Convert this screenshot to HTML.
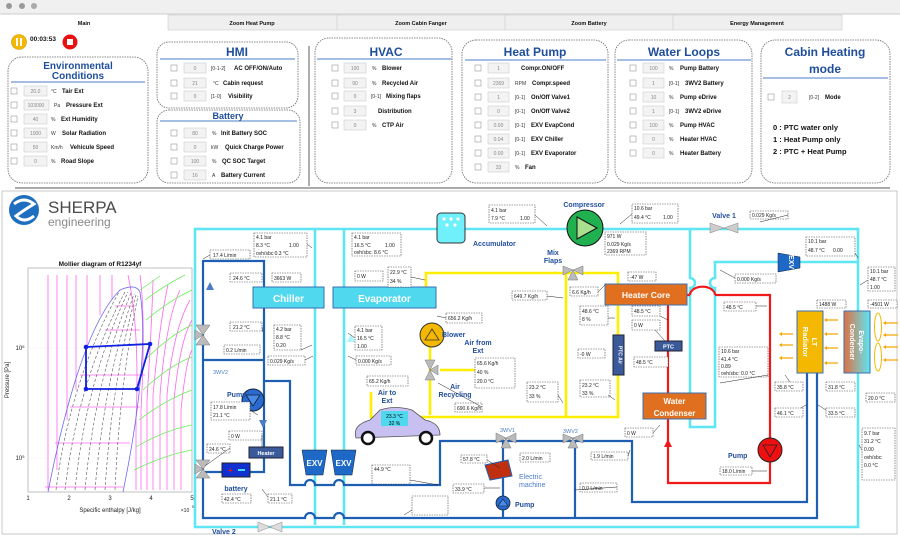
<!DOCTYPE html>
<html><head><meta charset="utf-8"><style>
html,body{margin:0;padding:0;background:#fff;}
svg{display:block;font-family:"Liberation Sans",sans-serif;}
.t{font-size:5px;fill:#222}
.v{font-size:5px;fill:#888;text-anchor:middle}
.u{font-size:5px;fill:#333}
.l{font-size:6px;font-weight:bold;fill:#111}
.h{font-weight:bold;fill:#1f4e9c;text-anchor:middle}
.pn{fill:none;stroke:#666;stroke-width:0.8;stroke-dasharray:1.5 1}
.ib{fill:#fff;stroke:#444;stroke-width:0.6;stroke-dasharray:1.5 1}
.cb{fill:#fff;stroke:#999;stroke-width:0.6}
.vb{fill:#f3f3f3;stroke:#ccc;stroke-width:0.6}
.cy{fill:none;stroke:#5ee6f5;stroke-width:2.6}
.bl{fill:none;stroke:#1e5fb4;stroke-width:2.2}
.rd{fill:none;stroke:#f01818;stroke-width:2.2}
.ye{fill:none;stroke:#ffee00;stroke-width:2.6}
.bt{font-size:7px;font-weight:bold;fill:#1f4e9c}
.ar{stroke:#222;stroke-width:0.5;fill:none}
</style></head><body>
<svg width="900" height="536" viewBox="0 0 900 536">
<!-- toolbar -->
<rect x="0" y="0" width="900" height="14" fill="#f0f0f0"/>
<circle cx="9" cy="6" r="3" fill="#999"/><circle cx="22" cy="6" r="3" fill="#999"/><circle cx="34" cy="6" r="3" fill="#aaa"/>
<line x1="0" y1="14" x2="900" y2="14" stroke="#ccc"/>
<!-- tabs -->
<rect x="168" y="15" width="674" height="15" fill="#efefef" stroke="#ccc" stroke-width="0.6"/>
<line x1="337" y1="15" x2="337" y2="30" stroke="#ccc" stroke-width="0.6"/><line x1="505" y1="15" x2="505" y2="30" stroke="#ccc" stroke-width="0.6"/><line x1="673" y1="15" x2="673" y2="30" stroke="#ccc" stroke-width="0.6"/>
<g font-size="5.5" font-weight="bold" text-anchor="middle" fill="#111">
<text x="84" y="25">Main</text><text x="252" y="25">Zoom Heat Pump</text><text x="421" y="25">Zoom Cabin Fanger</text><text x="589" y="25">Zoom Battery</text><text x="757" y="25">Energy Management</text></g>
<!-- timer -->
<circle cx="19" cy="42" r="7.5" fill="#f5b800" stroke="#c90" stroke-width="0.6"/><rect x="16" y="38" width="2" height="8" fill="#fff"/><rect x="20" y="38" width="2" height="8" fill="#fff"/>
<text x="30" y="41" font-size="6.5" font-weight="bold" fill="#111">00:03:53</text>
<circle cx="70" cy="42" r="7.5" fill="#e81010"/><rect x="67" y="39" width="6" height="6" fill="#fff"/>

<!-- Env panel -->
<rect class="pn" x="8" y="57" width="140" height="126" rx="14"/>
<text class="h" x="78" y="69" font-size="10">Environmental</text><text class="h" x="78" y="79" font-size="10">Conditions</text>
<line x1="11" y1="82" x2="145" y2="82" stroke="#4a7cc8" stroke-width="1"/>
<g>
<rect class="cb" x="11" y="88" width="6" height="6"/><rect class="vb" x="24" y="86" width="23" height="10"/><text class="v" x="35.5" y="93">20.0</text><text class="u" x="51" y="93">°C</text><text class="l" x="62" y="93">Tair Ext</text>
<rect class="cb" x="11" y="102" width="6" height="6"/><rect class="vb" x="24" y="100" width="25" height="10"/><text class="v" x="36" y="107">103000</text><text class="u" x="54" y="107">Pa</text><text class="l" x="66" y="107">Pressure Ext</text>
<rect class="cb" x="11" y="116" width="6" height="6"/><rect class="vb" x="24" y="114" width="23" height="10"/><text class="v" x="35.5" y="121">40</text><text class="u" x="51" y="121">%</text><text class="l" x="61" y="121">Ext Humidity</text>
<rect class="cb" x="11" y="130" width="6" height="6"/><rect class="vb" x="24" y="128" width="23" height="10"/><text class="v" x="35.5" y="135">1000</text><text class="u" x="51" y="135">W</text><text class="l" x="62" y="135">Solar Radiation</text>
<rect class="cb" x="11" y="144" width="6" height="6"/><rect class="vb" x="24" y="142" width="23" height="10"/><text class="v" x="35.5" y="149">50</text><text class="u" x="51" y="149">Km/h</text><text class="l" x="70" y="149">Vehicule Speed</text>
<rect class="cb" x="11" y="158" width="6" height="6"/><rect class="vb" x="24" y="156" width="23" height="10"/><text class="v" x="35.5" y="163">0</text><text class="u" x="51" y="163">%</text><text class="l" x="61" y="163">Road Slope</text>
</g>
<!-- HMI -->
<rect class="pn" x="157" y="42" width="141" height="66" rx="12"/>
<text class="h" x="237" y="56" font-size="12">HMI</text>
<line x1="160" y1="59" x2="295" y2="59" stroke="#4a7cc8" stroke-width="1"/>
<rect class="cb" x="171" y="65" width="6" height="6"/><rect class="vb" x="184" y="63" width="22" height="10"/><text class="v" x="195" y="70">0</text><text class="u" x="211" y="70">[0-1-2]</text><text class="l" x="234" y="70">AC OFF/ON/Auto</text>
<rect class="cb" x="171" y="80" width="6" height="6"/><rect class="vb" x="184" y="78" width="22" height="10"/><text class="v" x="195" y="85">21</text><text class="u" x="213" y="85">°C</text><text class="l" x="223" y="85">Cabin request</text>
<rect class="cb" x="171" y="93" width="6" height="6"/><rect class="vb" x="184" y="91" width="22" height="10"/><text class="v" x="195" y="98">0</text><text class="u" x="211" y="98">[1-0]</text><text class="l" x="228" y="98">Visibility</text>
<!-- Battery -->
<rect class="pn" x="157" y="110" width="143" height="73" rx="12"/>
<text class="h" x="228" y="119" font-size="9">Battery</text>
<line x1="160" y1="121" x2="297" y2="121" stroke="#4a7cc8" stroke-width="1"/>
<rect class="cb" x="171" y="130" width="6" height="6"/><rect class="vb" x="184" y="128" width="22" height="10"/><text class="v" x="195" y="135">80</text><text class="u" x="212" y="135">%</text><text class="l" x="221" y="135">Init Battery SOC</text>
<rect class="cb" x="171" y="144" width="6" height="6"/><rect class="vb" x="184" y="142" width="22" height="10"/><text class="v" x="195" y="149">0</text><text class="u" x="211" y="149">kW</text><text class="l" x="225" y="149">Quick Charge Power</text>
<rect class="cb" x="171" y="158" width="6" height="6"/><rect class="vb" x="184" y="156" width="22" height="10"/><text class="v" x="195" y="163">100</text><text class="u" x="212" y="163">%</text><text class="l" x="222" y="163">QC SOC Target</text>
<rect class="cb" x="171" y="172" width="6" height="6"/><rect class="vb" x="184" y="170" width="22" height="10"/><text class="v" x="195" y="177">16</text><text class="u" x="212" y="177">A</text><text class="l" x="221" y="177">Battery Current</text>
<line x1="309" y1="46" x2="309" y2="186" stroke="#777" stroke-width="1.2"/>
<!-- HVAC -->
<rect class="pn" x="315" y="38" width="137" height="145" rx="14"/>
<text class="h" x="386" y="56" font-size="12">HVAC</text>
<line x1="317" y1="59" x2="452" y2="59" stroke="#4a7cc8" stroke-width="1"/>
<rect class="cb" x="332" y="65" width="6" height="6"/><rect class="vb" x="344" y="63" width="22" height="10"/><text class="v" x="355" y="70">100</text><text class="u" x="372" y="70">%</text><text class="l" x="382" y="70">Blower</text>
<rect class="cb" x="332" y="80" width="6" height="6"/><rect class="vb" x="344" y="78" width="22" height="10"/><text class="v" x="355" y="85">90</text><text class="u" x="372" y="85">%</text><text class="l" x="382" y="85">Recycled Air</text>
<rect class="cb" x="332" y="93" width="6" height="6"/><rect class="vb" x="344" y="91" width="22" height="10"/><text class="v" x="355" y="98">0</text><text class="u" x="371" y="98">[0-1]</text><text class="l" x="386" y="98">Mixing flaps</text>
<rect class="cb" x="332" y="108" width="6" height="6"/><rect class="vb" x="344" y="106" width="22" height="10"/><text class="v" x="355" y="113">3</text><text class="l" x="378" y="113">Distribution</text>
<rect class="cb" x="332" y="122" width="6" height="6"/><rect class="vb" x="344" y="120" width="22" height="10"/><text class="v" x="355" y="127">0</text><text class="u" x="372" y="127">%</text><text class="l" x="382" y="127">CTP Air</text>
<!-- Heat Pump -->
<rect class="pn" x="462" y="40" width="146" height="143" rx="14"/>
<text class="h" x="535" y="56" font-size="12">Heat Pump</text>
<line x1="465" y1="60" x2="606" y2="60" stroke="#4a7cc8" stroke-width="1"/>
<g>
<rect class="cb" x="475" y="65" width="6" height="6"/><rect class="vb" x="488" y="63" width="21" height="10"/><text class="v" x="498.5" y="70">1</text><text class="l" x="521" y="70">Compr.ON/OFF</text>
<rect class="cb" x="475" y="80" width="6" height="6"/><rect class="vb" x="488" y="78" width="21" height="10"/><text class="v" x="498.5" y="85">2369</text><text class="u" x="515" y="85">RPM</text><text class="l" x="532" y="85">Compr.speed</text>
<rect class="cb" x="475" y="94" width="6" height="6"/><rect class="vb" x="488" y="92" width="21" height="10"/><text class="v" x="498.5" y="99">1</text><text class="u" x="515" y="99">[0-1]</text><text class="l" x="531" y="99">On/Off Valve1</text>
<rect class="cb" x="475" y="108" width="6" height="6"/><rect class="vb" x="488" y="106" width="21" height="10"/><text class="v" x="498.5" y="113">0</text><text class="u" x="515" y="113">[0-1]</text><text class="l" x="531" y="113">On/Off Valve2</text>
<rect class="cb" x="475" y="122" width="6" height="6"/><rect class="vb" x="488" y="120" width="21" height="10"/><text class="v" x="498.5" y="127">0.00</text><text class="u" x="515" y="127">[0-1]</text><text class="l" x="531" y="127">EXV EvapCond</text>
<rect class="cb" x="475" y="136" width="6" height="6"/><rect class="vb" x="488" y="134" width="21" height="10"/><text class="v" x="498.5" y="141">0.04</text><text class="u" x="515" y="141">[0-1]</text><text class="l" x="531" y="141">EXV Chiller</text>
<rect class="cb" x="475" y="150" width="6" height="6"/><rect class="vb" x="488" y="148" width="21" height="10"/><text class="v" x="498.5" y="155">0.00</text><text class="u" x="515" y="155">[0-1]</text><text class="l" x="531" y="155">EXV Evaporator</text>
<rect class="cb" x="475" y="164" width="6" height="6"/><rect class="vb" x="488" y="162" width="21" height="10"/><text class="v" x="498.5" y="169">33</text><text class="u" x="515" y="169">%</text><text class="l" x="525" y="169">Fan</text>
</g>
<!-- Water loops -->
<rect class="pn" x="615" y="40" width="137" height="143" rx="14"/>
<text class="h" x="684" y="56" font-size="12">Water Loops</text>
<line x1="617" y1="60" x2="751" y2="60" stroke="#4a7cc8" stroke-width="1"/>
<g>
<rect class="cb" x="630" y="65" width="6" height="6"/><rect class="vb" x="643" y="63" width="21" height="10"/><text class="v" x="653.5" y="70">100</text><text class="u" x="669" y="70">%</text><text class="l" x="680" y="70">Pump Battery</text>
<rect class="cb" x="630" y="80" width="6" height="6"/><rect class="vb" x="643" y="78" width="21" height="10"/><text class="v" x="653.5" y="85">1</text><text class="u" x="669" y="85">[0-1]</text><text class="l" x="685" y="85">3WV2 Battery</text>
<rect class="cb" x="630" y="94" width="6" height="6"/><rect class="vb" x="643" y="92" width="21" height="10"/><text class="v" x="653.5" y="99">10</text><text class="u" x="669" y="99">%</text><text class="l" x="680" y="99">Pump eDrive</text>
<rect class="cb" x="630" y="108" width="6" height="6"/><rect class="vb" x="643" y="106" width="21" height="10"/><text class="v" x="653.5" y="113">1</text><text class="u" x="669" y="113">[0-1]</text><text class="l" x="685" y="113">3WV2 eDrive</text>
<rect class="cb" x="630" y="122" width="6" height="6"/><rect class="vb" x="643" y="120" width="21" height="10"/><text class="v" x="653.5" y="127">100</text><text class="u" x="669" y="127">%</text><text class="l" x="680" y="127">Pump HVAC</text>
<rect class="cb" x="630" y="136" width="6" height="6"/><rect class="vb" x="643" y="134" width="21" height="10"/><text class="v" x="653.5" y="141">0</text><text class="u" x="669" y="141">%</text><text class="l" x="680" y="141">Heater HVAC</text>
<rect class="cb" x="630" y="150" width="6" height="6"/><rect class="vb" x="643" y="148" width="21" height="10"/><text class="v" x="653.5" y="155">0</text><text class="u" x="669" y="155">%</text><text class="l" x="680" y="155">Heater Battery</text>
</g>
<!-- Cabin heating -->
<rect class="pn" x="761" y="40" width="129" height="143" rx="14"/>
<text class="h" x="825" y="56" font-size="12">Cabin Heating</text><text class="h" x="825" y="73" font-size="12">mode</text>
<line x1="763" y1="78" x2="888" y2="78" stroke="#4a7cc8" stroke-width="1"/>
<rect class="cb" x="768" y="94" width="6" height="6"/><rect class="vb" x="782" y="91" width="15" height="12"/><text class="v" x="789.5" y="99">2</text><text class="u" x="809" y="99">[0-2]</text><text class="l" x="825" y="99">Mode</text>
<g font-size="7.5" font-weight="bold" fill="#111"><text x="773" y="130">0 : PTC water only</text><text x="773" y="142">1 : Heat Pump only</text><text x="773" y="154">2 : PTC + Heat Pump</text></g>
<line x1="15" y1="188" x2="890" y2="188" stroke="#777" stroke-width="1.2"/>

<!-- lower frame -->
<rect x="2" y="191" width="895" height="343" fill="none" stroke="#bbb" stroke-width="0.8"/>
<!-- Sherpa logo -->
<circle cx="24" cy="210" r="15" fill="#1f6fc0"/>
<path d="M14 204 Q24 196 34 204 Q24 210 16 216 Q24 224 34 216" fill="none" stroke="#fff" stroke-width="3"/>
<text x="48" y="213" font-size="17" fill="#4a4a4a">SHERPA</text>
<text x="48" y="226" font-size="12" fill="#888">engineering</text>

<!-- Mollier -->
<text x="100" y="266" font-size="6.5" font-weight="bold" text-anchor="middle" fill="#111">Mollier diagram of R1234yf</text>
<rect x="28" y="268" width="164" height="224" fill="#fff" stroke="#999" stroke-width="0.6"/>
<g stroke="#eee" stroke-width="0.4"><line x1="69" y1="268" x2="69" y2="492"/><line x1="110" y1="268" x2="110" y2="492"/><line x1="151" y1="268" x2="151" y2="492"/><line x1="28" y1="348" x2="192" y2="348"/><line x1="28" y1="458" x2="192" y2="458"/></g>
<g stroke="#ff66ee" stroke-width="0.8" fill="none">
<line x1="48" y1="275" x2="48" y2="490"/><line x1="57" y1="275" x2="57" y2="470"/><line x1="67" y1="275" x2="67" y2="420"/><line x1="76" y1="275" x2="76" y2="390"/><line x1="87" y1="275" x2="87" y2="345"/><line x1="100" y1="275" x2="100" y2="315"/><line x1="112" y1="275" x2="112" y2="300"/>
<path d="M136 490 L136 420 Q140 330 128 275"/><path d="M141 490 L141 410 Q146 320 140 275"/><path d="M147 490 L147 400 Q152 320 153 280"/><path d="M153 490 L153 395 Q160 320 168 285"/><path d="M160 490 L160 395 Q166 320 180 290"/><path d="M167 490 L167 395 Q173 330 190 300"/><path d="M174 490 L174 400 Q180 340 192 320"/><path d="M181 490 L181 410 Q186 360 192 350"/>
<line x1="115" y1="306" x2="135" y2="306"/><line x1="105" y1="330" x2="140" y2="330"/><line x1="80" y1="375" x2="145" y2="375"/><line x1="70" y1="407" x2="140" y2="407"/><line x1="55" y1="443" x2="130" y2="443"/><line x1="45" y1="487" x2="123" y2="487"/>
</g>
<g stroke="#66ee55" stroke-width="0.7" fill="none">
<path d="M140 290 L160 276"/><path d="M145 300 Q165 285 185 275"/><path d="M146 320 Q170 300 192 290"/><path d="M145 360 Q170 335 192 325"/><path d="M143 390 Q170 365 192 357"/><path d="M139 420 Q165 400 192 390"/><path d="M136 447 Q165 430 192 425"/><path d="M134 470 Q165 455 192 450"/>
</g>
<g stroke="#555" stroke-width="0.6" stroke-dasharray="3 2" fill="none">
<path d="M56 490 Q70 380 120 290"/><path d="M65 490 Q78 380 125 292"/><path d="M75 490 Q86 380 128 292"/><path d="M85 490 Q95 380 131 293"/><path d="M95 490 Q104 380 134 294"/><path d="M105 490 Q112 380 136 295"/><path d="M115 490 Q120 380 138 296"/>
</g>
<path d="M48 492 Q80 330 120 290 Q136 283 140 292 Q150 360 123 492" fill="none" stroke="#6a6af0" stroke-width="0.8"/>
<path d="M86 347 L150 344 L137 389 L86 389 Z" fill="none" stroke="#1020e0" stroke-width="1.8"/>
<g fill="#1020e0"><circle cx="86" cy="347" r="2.3"/><circle cx="150" cy="344" r="2.3"/><circle cx="137" cy="389" r="2.3"/><circle cx="86" cy="389" r="2.3"/></g>
<g font-size="6" fill="#222" text-anchor="middle"><text x="28" y="500">1</text><text x="69" y="500">2</text><text x="110" y="500">3</text><text x="151" y="500">4</text><text x="192" y="500">5</text>
<text x="110" y="512">Specific enthalpy [J/kg]</text><text x="185" y="512" font-size="5">×10</text><text x="193" y="508" font-size="4">5</text>
<text x="20" y="350">10<tspan font-size="4" dy="-2">6</tspan></text><text x="20" y="460">10<tspan font-size="4" dy="-2">5</tspan></text>
<text transform="translate(9,380) rotate(-90)">Pressure [Pa]</text></g>

<!-- refrigerant cyan loops -->
<path class="cy" d="M195 229 H858 V527 H195 Z"/>
<line class="cy" x1="315" y1="229" x2="315" y2="525"/><line class="cy" x1="344" y1="229" x2="344" y2="525"/>
<path class="cy" d="M690 228 V278 a5 5 0 0 1 0 10 V427 H715 V288 a5 5 0 0 1 0 -10 V262 H857"/>
<!-- yellow air -->
<path class="ye" d="M426 287 V273 H618 V417 H371 V392"/>
<line class="ye" x1="566" y1="273" x2="566" y2="417"/>
<line class="ye" x1="430" y1="330" x2="430" y2="415"/>
<line class="ye" x1="440" y1="370" x2="475" y2="370"/>
<!-- red loop -->
<path class="rd" d="M687 295 H690 M715 295 H770 V483 H668 V305"/>
<path d="M687 295 H686" class="rd"/><path class="rd" d="M688 295 a1 1 0 0 1 0 0"/>
<line class="rd" x1="687" y1="295" x2="689" y2="295"/>
<path d="M690 295 a12 8 0 0 1 25 0" fill="none" stroke="#f01818" stroke-width="2.2"/>
<!-- blue coolant -->
<path class="bl" d="M264 308 V261 H203 V518 H305 a5 5 0 0 1 10 0 H334 a5 5 0 0 1 10 0 H817 V373"/>
<path class="bl" d="M264 308 V472 H203"/>
<path class="bl" d="M203 360 H264"/>
<path class="bl" d="M264 381 H290 V485 H305 a5 5 0 0 1 10 0 H334 a5 5 0 0 1 10 0 H440 V441 H632 V502 H807 V373"/>
<line class="bl" x1="575" y1="441" x2="575" y2="518"/><line class="bl" x1="503" y1="441" x2="503" y2="518"/>
<!-- components -->
<rect x="253" y="287" width="71" height="21" fill="#4fd8ee" stroke="#3a6fb0"/><text x="288.5" y="302" font-size="10" font-weight="bold" fill="#fff" text-anchor="middle">Chiller</text>
<rect x="333" y="287" width="103" height="21" fill="#4fd8ee" stroke="#3a6fb0"/><text x="384.5" y="302" font-size="10" font-weight="bold" fill="#fff" text-anchor="middle">Evaporator</text>
<rect x="437" y="213" width="28" height="30" rx="4" fill="#6ff0fa" stroke="#333" stroke-width="1"/>
<g fill="#fff"><circle cx="444" cy="219" r="1.6"/><circle cx="451" cy="219" r="1.6"/><circle cx="458" cy="219" r="1.6"/><circle cx="447" cy="225" r="1.6"/><circle cx="455" cy="225" r="1.6"/></g>
<text class="bt" x="473" y="246">Accumulator</text>
<circle cx="585" cy="228" r="18" fill="#20b050" stroke="#111" stroke-width="1"/><path d="M577 217 L597 228 L577 239 Z" fill="#a8e090" stroke="#111" stroke-width="1"/>
<text class="bt" x="584" y="207" text-anchor="middle">Compressor</text>
<path d="M710 223 L724 228 L710 233 Z M738 223 L724 228 L738 233 Z" fill="#ccc" stroke="#888" stroke-width="0.5"/>
<text class="bt" x="724" y="218" text-anchor="middle">Valve 1</text>
<path d="M258 522 L270 527 L258 532 Z M282 522 L270 527 L282 532 Z" fill="#ddd" stroke="#888" stroke-width="0.5"/>
<text class="bt" x="212" y="534">Valve 2</text>
<path d="M778 253 L800 257 L800 268 L778 272 Z" fill="#1e68c8" stroke="#123" stroke-width="0.5"/><text x="789" y="262" font-size="7" fill="#fff" font-weight="bold" text-anchor="middle" transform="rotate(90 789 262)">EXV</text>
<path d="M302 450 H327 L323 475 H306 Z" fill="#1e68c8" stroke="#123" stroke-width="0.5"/><text x="314.5" y="466" font-size="8" fill="#fff" font-weight="bold" text-anchor="middle">EXV</text>
<path d="M331 450 H356 L352 475 H335 Z" fill="#1e68c8" stroke="#123" stroke-width="0.5"/><text x="343.5" y="466" font-size="8" fill="#fff" font-weight="bold" text-anchor="middle">EXV</text>
<rect x="605" y="284" width="82" height="21" fill="#e07020" stroke="#3a6fb0"/><text x="646" y="298" font-size="8.5" font-weight="bold" fill="#fff" text-anchor="middle">Heater Core</text>
<rect x="643" y="393" width="63" height="26" fill="#e07020" stroke="#3a6fb0"/><text x="674.5" y="404" font-size="8" font-weight="bold" fill="#fff" text-anchor="middle">Water</text><text x="674.5" y="416" font-size="8" font-weight="bold" fill="#fff" text-anchor="middle">Condenser</text>
<rect x="655" y="341" width="27" height="10" fill="#3a5a9a" stroke="#223"/><text x="668.5" y="348.5" font-size="5.5" fill="#fff" font-weight="bold" text-anchor="middle">PTC</text>
<rect x="613" y="335" width="11" height="40" fill="#3a5a9a" stroke="#223"/><text x="618.5" y="355" font-size="5" fill="#fff" font-weight="bold" text-anchor="middle" transform="rotate(90 618.5 355)">PTC Air</text>
<rect x="249" y="447" width="34" height="11" fill="#3a5a9a" stroke="#223"/><text x="266" y="455" font-size="5.5" fill="#fff" font-weight="bold" text-anchor="middle">Heater</text>
<rect x="797" y="311" width="26" height="62" fill="#f5b800" stroke="#3a6fb0"/><text x="810" y="342" font-size="7.5" fill="#fff" font-weight="bold" text-anchor="middle" transform="rotate(90 810 342)"><tspan x="810" dy="-2">LT</tspan><tspan x="810" dy="9">Radiator</tspan></text>
<defs><linearGradient id="ec" x1="0" x2="1"><stop offset="0" stop-color="#e07040"/><stop offset="1" stop-color="#5ee6f5"/></linearGradient></defs>
<rect x="844" y="311" width="26" height="62" fill="url(#ec)" stroke="#3a6fb0"/><text x="857" y="342" font-size="7" fill="#fff" font-weight="bold" text-anchor="middle" transform="rotate(90 857 342)"><tspan x="857" dy="-2">Evapo-</tspan><tspan x="857" dy="9">Condenser</tspan></text>
<ellipse cx="878" cy="327" rx="3.5" ry="14" fill="none" stroke="#f5b800" stroke-width="1"/><ellipse cx="878" cy="357" rx="3.5" ry="14" fill="none" stroke="#f5b800" stroke-width="1"/>
<g stroke="#f5a800" stroke-width="1.2" fill="#f5a800">
<path d="M781 334 H793 M781 345 H793 M781 358 H793 M826 320 H838 M826 334 H838 M826 348 H838 M826 363 H838 M885 323 H898 M885 335 H898 M885 347 H898 M885 360 H898"/></g>
<g fill="#f5a800"><path d="M779 334 l3 -2 v4z M779 345 l3 -2 v4z M779 358 l3 -2 v4z M824 320 l3 -2 v4z M824 334 l3 -2 v4z M824 348 l3 -2 v4z M824 363 l3 -2 v4z M883 323 l3 -2 v4z M883 335 l3 -2 v4z M883 347 l3 -2 v4z M883 360 l3 -2 v4z"/></g>
<!-- pumps -->
<circle cx="253" cy="400" r="11" fill="#2a6ad0" stroke="#123" stroke-width="1"/><path d="M246 395 L260 395 L253 406 Z" fill="#4a8ae8" stroke="#123" stroke-width="0.8"/>
<text class="bt" x="227" y="397">Pump</text>
<path d="M259 420 L267 420 L263 428 Z" fill="#4a7cc8"/>
<circle cx="770" cy="450" r="12" fill="#ee1010" stroke="#222" stroke-width="1"/><path d="M763 445 L777 445 L770 457 Z" fill="none" stroke="#222" stroke-width="0.8"/>
<text class="bt" x="728" y="458">Pump</text>
<path d="M664 447 L668 439 L672 447 Z" fill="#f01818"/>
<circle cx="503" cy="503" r="7" fill="#2a6ad0" stroke="#123" stroke-width="0.8"/><path d="M498 506 L508 506 L503 499 Z" fill="#4a8ae8" stroke="#123" stroke-width="0.6"/>
<text class="bt" x="515" y="507">Pump</text>
<circle cx="432" cy="335" r="12" fill="#f5b800" stroke="#333" stroke-width="1"/><path d="M425 340 L439 340 L432 329 Z" fill="none" stroke="#333" stroke-width="0.8"/>
<text class="bt" x="442" y="337">Blower</text>
<text class="bt" x="478" y="345" text-anchor="middle">Air from</text><text class="bt" x="478" y="353" text-anchor="middle">Ext</text>
<text class="bt" x="455" y="389" text-anchor="middle">Air</text><text class="bt" x="455" y="397" text-anchor="middle">Recycling</text>
<text class="bt" x="387" y="395" text-anchor="middle">Air to</text><text class="bt" x="387" y="403" text-anchor="middle">Ext</text>
<text class="bt" x="553" y="255" text-anchor="middle">Mix</text><text class="bt" x="553" y="263" text-anchor="middle">Flaps</text>
<text x="519" y="479" font-size="7" fill="#4a7cc8">Electric</text><text x="519" y="487" font-size="7" fill="#4a7cc8">machine</text>
<path d="M485 465 L508 460 L512 476 L490 480 Z" fill="#c03010" stroke="#1e5fb4" stroke-width="1"/>
<text x="213" y="374" font-size="5.5" fill="#4a7cc8">3WV2</text><text x="500" y="432" font-size="5.5" fill="#4a7cc8">3WV1</text><text x="563" y="433" font-size="5.5" fill="#4a7cc8">3WV2</text>
<!-- 3 way valves -->
<g fill="#bbb" stroke="#777" stroke-width="0.5">
<path d="M196 345 L203 335 L210 345 Z M196 325 L203 335 L210 325 Z M203 335 L195 330 L195 340 Z"/>
<path d="M196 478 L203 469 L210 478 Z M196 460 L203 469 L210 460 Z M203 469 L195 464 L195 474 Z"/>
<path d="M496 433 L506 438 L496 443 Z M516 433 L506 438 L516 443 Z M501 448 L506 438 L511 448 Z"/>
<path d="M563 434 L573 438 L563 443 Z M583 434 L573 438 L583 443 Z M568 448 L573 438 L578 448 Z"/>
<path d="M563 266 L573 270 L563 275 Z M583 266 L573 270 L583 275 Z M568 280 L573 270 L578 280 Z"/>
<path d="M425 360 L430 370 L435 360 Z M425 380 L430 370 L435 380 Z M430 370 L438 365 L438 375 Z"/>
</g>
<!-- car -->
<path d="M356 438 Q352 425 370 420 L380 410 Q395 405 412 410 L425 420 Q440 423 440 435 Z" fill="#c8c0f0" stroke="#555" stroke-width="0.8"/>
<rect x="381" y="411" width="27" height="15" fill="#4fd8ee"/><text x="394.5" y="418" font-size="5" text-anchor="middle">23.3 °C</text><text x="394.5" y="425" font-size="5" text-anchor="middle">32 %</text>
<circle cx="368" cy="438" r="6" fill="#fff" stroke="#111" stroke-width="2.5"/><circle cx="426" cy="438" r="6" fill="#fff" stroke="#111" stroke-width="2.5"/>
<!-- battery -->
<rect x="222" y="463" width="28" height="14" fill="#1030d0" stroke="#222"/><text x="228" y="473" font-size="8" fill="#f01818" font-weight="bold">+</text><rect x="238" y="469" width="7" height="2" fill="#4fd8ee"/>
<text class="bt" x="236" y="491" text-anchor="middle">battery</text>
<path d="M206 290 L210 282 L214 290 Z" fill="#4a7cc8"/>
<path d="M347 342 L351 334 L355 342 Z" fill="#aaf6fb"/>
<!-- info boxes -->
<g class="t">
<rect class="ib" x="489" y="205" width="46" height="18"/><text x="491" y="212">4.1 bar</text><text x="491" y="220">7.9 °C</text><text x="520" y="220">1.00</text>
<rect class="ib" x="254" y="233" width="53" height="24"/><text x="256" y="239">4.1 bar</text><text x="256" y="247">8.3 °C</text><text x="289" y="247">1.00</text><text x="256" y="255">ovh/sbc:0.3 °C</text>
<rect class="ib" x="210" y="250" width="40" height="9"/><text x="213" y="257">17.4 L/min</text>
<rect class="ib" x="230" y="273" width="32" height="9"/><text x="233" y="280">24.6 °C</text>
<rect class="ib" x="272" y="273" width="29" height="9"/><text x="274" y="280">3663 W</text>
<rect class="ib" x="352" y="233" width="49" height="23"/><text x="354" y="239">4.1 bar</text><text x="354" y="247">16.5 °C</text><text x="385" y="247">1.00</text><text x="354" y="254">ovh/sbc: 8.6 °C</text>
<rect class="ib" x="355" y="271" width="28" height="10"/><text x="357" y="278">0 W</text>
<rect class="ib" x="388" y="267" width="23" height="20"/><text x="390" y="274">22.9 °C</text><text x="390" y="283">34 %</text>
<rect class="ib" x="512" y="291" width="35" height="9"/><text x="514" y="298">649.7 Kg/h</text>
<rect class="ib" x="230" y="322" width="32" height="9"/><text x="233" y="329">21.2 °C</text>
<rect class="ib" x="274" y="325" width="27" height="25"/><text x="276" y="331">4.2 bar</text><text x="276" y="339">8.8 °C</text><text x="276" y="347">0.20</text>
<rect class="ib" x="224" y="345" width="36" height="9"/><text x="226" y="352">0.2 L/min</text>
<rect class="ib" x="268" y="356" width="37" height="9"/><text x="270" y="363">0.029 Kg/s</text>
<rect class="ib" x="355" y="326" width="27" height="24"/><text x="357" y="332">4.1 bar</text><text x="357" y="340">16.5 °C</text><text x="357" y="348">1.00</text>
<rect class="ib" x="356" y="356" width="35" height="9"/><text x="358" y="363">0.000 Kg/s</text>
<rect class="ib" x="446" y="313" width="36" height="10"/><text x="448" y="320">656.2 Kg/h</text>
<rect class="ib" x="475" y="358" width="40" height="30"/><text x="477" y="365">65.6 Kg/h</text><text x="477" y="374">40 %</text><text x="477" y="383">20.0 °C</text>
<rect class="ib" x="367" y="376" width="41" height="10"/><text x="369" y="383">65.2 Kg/h</text>
<rect class="ib" x="455" y="403" width="27" height="9"/><text x="457" y="410">690.6 Kg/h</text>
<rect class="ib" x="211" y="402" width="39" height="18"/><text x="213" y="409">17.8 L/min</text><text x="213" y="417">21.1 °C</text>
<rect class="ib" x="229" y="431" width="33" height="9"/><text x="231" y="438">0 W</text>
<rect class="ib" x="207" y="444" width="23" height="9"/><text x="209" y="451">24.6 °C</text>
<rect class="ib" x="222" y="494" width="29" height="9"/><text x="224" y="501">42.4 °C</text>
<rect class="ib" x="268" y="494" width="24" height="9"/><text x="270" y="501">21.1 °C</text>
<rect class="ib" x="461" y="455" width="26" height="8"/><text x="463" y="461">57.8 °C</text>
<rect class="ib" x="520" y="453" width="30" height="9"/><text x="522" y="460">2.0 L/min</text>
<rect class="ib" x="372" y="465" width="38" height="19"/><text x="374" y="471">44.9 °C</text>
<rect class="ib" x="453" y="484" width="31" height="9"/><text x="455" y="491">33.9 °C</text>
<rect class="ib" x="412" y="496" width="36" height="19"/>
<rect class="ib" x="632" y="204" width="46" height="19"/><text x="634" y="210">10.6 bar</text><text x="634" y="219">49.4 °C</text><text x="663" y="219">1.00</text>
<rect class="ib" x="605" y="232" width="41" height="23"/><text x="607" y="238">971 W</text><text x="607" y="246">0.029 Kg/s</text><text x="607" y="253">2369 RPM</text>
<rect class="ib" x="750" y="211" width="38" height="8"/><text x="752" y="217">0.029 Kg/s</text>
<rect class="ib" x="806" y="237" width="49" height="19"/><text x="808" y="243">10.1 bar</text><text x="808" y="252">48.7 °C</text><text x="833" y="252">0.00</text>
<rect class="ib" x="735" y="274" width="41" height="9"/><text x="737" y="281">0.000 Kg/s</text>
<rect class="ib" x="868" y="267" width="27" height="24"/><text x="870" y="273">10.1 bar</text><text x="870" y="281">48.7 °C</text><text x="870" y="289">1.00</text>
<rect class="ib" x="628" y="272" width="28" height="9"/><text x="630" y="279">-47 W</text>
<rect class="ib" x="570" y="287" width="28" height="9"/><text x="572" y="294">6.6 Kg/h</text>
<rect class="ib" x="580" y="306" width="28" height="19"/><text x="582" y="313">48.6 °C</text><text x="582" y="321">8 %</text>
<rect class="ib" x="632" y="306" width="28" height="10"/><text x="634" y="313">48.5 °C</text>
<rect class="ib" x="632" y="320" width="28" height="10"/><text x="634" y="327">0 W</text>
<rect class="ib" x="634" y="357" width="34" height="10"/><text x="636" y="364">48.5 °C</text>
<rect class="ib" x="578" y="349" width="27" height="9"/><text x="580" y="356">-0 W</text>
<rect class="ib" x="580" y="380" width="30" height="17"/><text x="582" y="387">23.2 °C</text><text x="582" y="395">33 %</text>
<rect class="ib" x="527" y="382" width="31" height="20"/><text x="529" y="389">23.2 °C</text><text x="529" y="398">33 %</text>
<rect class="ib" x="724" y="302" width="32" height="9"/><text x="726" y="309">48.5 °C</text>
<rect class="ib" x="719" y="347" width="49" height="30"/><text x="721" y="353">10.6 bar</text><text x="721" y="361">41.4 °C</text><text x="721" y="368">0.89</text><text x="721" y="375">ovh/sbc: 0.0 °C</text>
<rect class="ib" x="625" y="428" width="28" height="9"/><text x="627" y="435">0 W</text>
<rect class="ib" x="591" y="452" width="37" height="8"/><text x="593" y="458">1.9 L/min</text>
<rect class="ib" x="580" y="483" width="37" height="9"/><text x="582" y="490">0.0 L/min</text>
<rect class="ib" x="720" y="467" width="32" height="8"/><text x="722" y="473">18.0 L/min</text>
<rect class="ib" x="817" y="300" width="29" height="8"/><text x="819" y="306">1488 W</text>
<rect class="ib" x="868" y="300" width="29" height="8"/><text x="870" y="306">-4501 W</text>
<rect class="ib" x="775" y="382" width="28" height="9"/><text x="777" y="389">35.8 °C</text>
<rect class="ib" x="826" y="382" width="29" height="9"/><text x="828" y="389">31.8 °C</text>
<rect class="ib" x="866" y="393" width="29" height="9"/><text x="868" y="400">20.0 °C</text>
<rect class="ib" x="775" y="408" width="28" height="9"/><text x="777" y="415">46.1 °C</text>
<rect class="ib" x="826" y="408" width="29" height="9"/><text x="828" y="415">33.5 °C</text>
<rect class="ib" x="862" y="428" width="33" height="52"/><text x="864" y="435">9.7 bar</text><text x="864" y="443">31.2 °C</text><text x="864" y="451">0.00</text><text x="864" y="459">ovh/sbc:</text><text x="864" y="467">0.0 °C</text>
</g>
<!-- pointer arrows -->
<g class="ar">
<path d="M535 215 L547 226"/><path d="M632 214 L620 224"/><path d="M307 244 L312 248"/><path d="M210 255 L203 259"/><path d="M301 350 L312 345"/><path d="M305 360 L313 356"/><path d="M355 338 L348 333"/><path d="M356 360 L348 356"/><path d="M262 327 L263 332"/><path d="M446 318 L437 316"/><path d="M482 407 L438 383"/><path d="M547 296 L563 298"/><path d="M598 292 L605 285"/><path d="M411 277 L425 280"/><path d="M660 316 L668 320"/><path d="M655 330 L665 341"/><path d="M756 306 L767 306"/><path d="M735 278 L720 270"/><path d="M855 253 L858 258"/><path d="M868 280 L860 285"/><path d="M788 215 L760 222"/><path d="M768 375 L720 383"/><path d="M752 471 L767 471"/><path d="M801 408 L806 405"/><path d="M826 410 L818 405"/><path d="M790 382 L785 375"/><path d="M862 450 L859 445"/><path d="M410 480 L438 485"/><path d="M484 488 L500 488"/><path d="M412 510 L404 515"/><path d="M487 460 L500 468"/><path d="M250 410 L258 415"/><path d="M262 435 L262 447"/><path d="M268 497 L262 489"/><path d="M230 448 L205 466"/><path d="M558 395 L563 403"/><path d="M608 395 L615 400"/><path d="M608 318 L615 318"/><path d="M628 456 L630 450"/><path d="M617 487 L575 490"/><path d="M653 433 L660 425"/></g>
</svg>
</body></html>
